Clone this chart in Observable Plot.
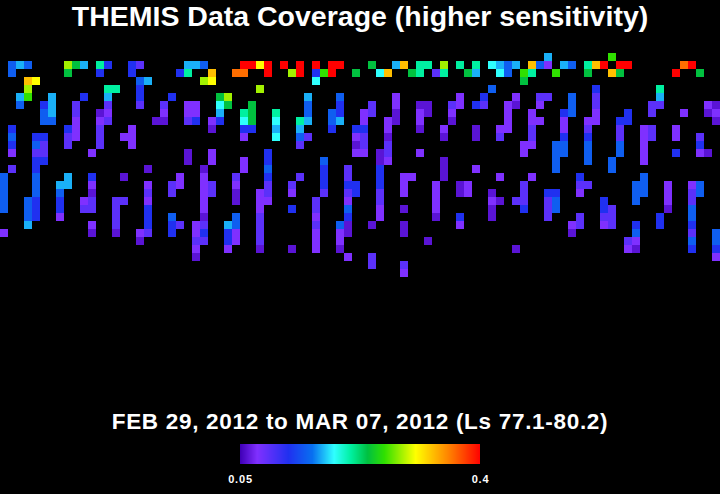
<!DOCTYPE html>
<html>
<head>
<meta charset="utf-8">
<script src="https://cdn.jsdelivr.net/npm/d3@7"></script>
<script src="https://cdn.jsdelivr.net/npm/@observablehq/plot@0.6"></script>
<style>
  html, body { margin: 0; padding: 0; background: #000; }
  #page { position: relative; width: 720px; height: 494px; background: #000; overflow: hidden; font-family: "Liberation Sans", Arial, sans-serif; color: #fff; }
  #page svg { position: absolute; left: 0; background: #000; }
  #page svg text { letter-spacing: 0.8px; }
  .t { position: absolute; left: 0; width: 720px; text-align: center; margin: 0; font-weight: bold; white-space: nowrap; z-index: 2; }
  #title { top: 0; font-size: 28.5px; line-height: 32px; letter-spacing: 0; }
  #sub { top: 409px; font-size: 22.5px; line-height: 26px; letter-spacing: 0.7px; }
</style>
</head>
<body>
<div id="page">
  <h1 class="t" id="title">THEMIS Data Coverage (higher sensitivity)</h1>
  <h2 class="t" id="sub">FEB 29, 2012 to MAR 07, 2012 (Ls 77.1-80.2)</h2>
</div>
<script>
const columnCount = 90;
const rowCount = 28;
const rampMin = 0.05;
const rampMax = 0.4;
const rampTicks = [0.05, 0.4];

// colour ramp stops
const stopValues = [0.05, 0.0745, 0.12, 0.155, 0.1865, 0.211, 0.2355, 0.26, 0.3055, 0.3545, 0.4];
const stopColors = ["#4000b8", "#8030ff", "#2030f0", "#0870f0", "#30ffff", "#00f0a0", "#00c040", "#30e000", "#ffff00", "#ff8000", "#ff0000"];

// sensitivity levels
const levels = {a: 0.06, b: 0.075, c: 0.092, d: 0.12, e: 0.145, f: 0.169, g: 0.187, h: 0.211, i: 0.236, j: 0.26, k: 0.285, l: 0.306, m: 0.33, n: 0.361, o: 0.4};

// one string per latitude row: column number + level letter
const coverageRows = [
  "68f 76j",
  "1e 2f 3e 8k 9i 10f 12h 13d 16d 17c 23f 24f 25e 30o 31o 32l 33o 35o 37o 39o 41o 42o 46i 49f 50m 52h 53h 55k 57h 59h 61g 62f 63e 64f 66m 67e 68b 70f 71e 73h 74m 75o 77o 78o 85n 86o",
  "1e 8i 12d 16d 22d 23h 26m 29n 30n 33o 36k 37o 39d 40j 41o 44i 47g 48m 51i 52h 54c 55h 58i 59f 62g 63e 65j 66h 69j 73i 76m 77i 84o 87i",
  "3m 4l 17e 18f 25k 26l 39g 65i",
  "3k 13h 14h 17d 32k 61e 74d 82h",
  "2f 3j 6f 10d 13f 17d 21d 27i 28k 38f 42e 49b 57b 60d 64b 67c 68c 71e 74c 82f",
  "2e 5d 6f 9c 13c 17c 20c 23b 24b 27g 28i 31i 38e 42d 46c 49b 52a 53a 56c 57b 59d 60c 63b 64a 67b 71e 74c 81c 82c 88b 89a",
  "5e 6f 9c 12a 13b 20b 23b 24b 27f 30h 31i 34h 38e 41e 42d 45b 46c 49a 52b 53a 56b 63b 66b 70d 71e 74b 78d 81c 85b 88a 89b",
  "5e 6e 9b 12b 13c 19a 20a 23c 24d 26b 27d 30g 31i 34g 37h 38f 41e 42f 45b 48b 49a 52b 56a 63b 66b 67b 70b 73b 74b 77d 78d 89a",
  "1d 8d 9b 12c 16b 26a 30d 31d 34f 37f 41d 44d 45d 48b 52a 55b 59a 62b 63b 66c 70b 73c 77c 80b 81c 84b",
  "1e 4d 5d 8c 9b 12c 15b 16b 30b 34g 37e 38c 44b 45c 48a 55a 59a 62c 66c 70d 73d 77c 80b 81c 84b 87c",
  "1d 4e 5c 8c 12c 16b 37c 44a 45c 48c 65b 66b 69e 70e 73e 77e 80b 87d",
  "1b 4c 5c 11b 23a 26b 33d 44b 45b 47a 48c 52b 65b 69e 70e 73e 77e 80b 84d 87b 88a",
  "4d 5d 23a 26b 30b 33d 40e 47a 48b 55a 69e 73e 76e 80b",
  "1c 4d 18a 25a 30b 33e 40d 43c 47d 55a 59b 69e 76e",
  "0e 4e 8f 11d 15a 22b 25b 29c 33d 37c 40d 43c 47d 50b 51b 55a 62b 66b 72d 80e",
  "0e 4e 7f 8f 11b 18b 21c 22b 25b 26c 29b 33c 36c 40d 43d 44d 47d 50b 54b 57a 58b 65c 72c 73c 79e 80e 83b 86b 87e",
  "0e 4e 7e 11a 18c 21c 25b 26c 29a 32b 33c 36b 40c 43c 44d 47c 50b 54b 57a 58b 61a 65c 68d 69d 72b 79e 80e 83b 86c 87e",
  "0e 3e 4d 7d 10b 11c 14c 15c 18b 25b 29a 32b 33b 39c 43b 47c 54b 61b 62a 64c 65c 68c 69e 75d 79e 83b 86c",
  "0e 3e 4d 7d 10c 11c 14c 18d 25b 32b 36d 39c 43e 47b 50a 54b 61a 65d 68c 69e 75d 76c 83a 86e",
  "3e 4d 7b 14c 18d 21e 25a 29e 32c 39b 43d 47b 54a 57d 61a 68c 72c 75c 76c 82d 86e",
  "3f 11b 14c 18d 21d 22c 24b 25c 28f 29e 32c 39c 42e 43a 46a 50a 57b 71b 72c 75b 76c 79d 82d 86d",
  "0b 11a 14a 17b 18c 21d 24b 25d 28d 29b 32c 39b 42b 43a 50a 71a 79e 86c 89e",
  "17a 24c 25c 28d 29b 32c 39b 42b 53a 78c 79b 86e 89e",
  "24b 28b 32a 36a 39b 42a 64a 78b 79a 86d 89d",
  "24a 43b 46c 89b",
  "46c 50c",
  "50b"
];

const cells = coverageRows.flatMap((line, row) =>
  line.split(" ").map(tok => ({
    col: +tok.slice(0, -1),
    row,
    value: levels[tok.slice(-1)]
  }))
);

const colorScale = {type: "linear", domain: stopValues, range: stopColors, interpolate: "rgb", clamp: true};

const chart = Plot.plot({
  width: 720,
  height: 494,
  marginTop: 53,
  marginBottom: 217,
  marginLeft: 0,
  marginRight: 0,
  style: {background: "#000"},
  x: {type: "band", domain: d3.range(columnCount), padding: 0, axis: null},
  y: {type: "band", domain: d3.range(rowCount), padding: 0, axis: null},
  color: colorScale,
  marks: [
    Plot.cell(cells, {x: "col", y: "row", fill: "value"})
  ]
});
chart.style.top = "0px";
document.getElementById("page").appendChild(chart);

// colour bar
const rampSteps = d3.range(240).map(i => ({
  a: rampMin + (rampMax - rampMin) * i / 240,
  b: rampMin + (rampMax - rampMin) * (i + 1) / 240
}));
const bar = Plot.plot({
  width: 720,
  height: 50,
  marginTop: 0,
  marginBottom: 30,
  marginLeft: 240,
  marginRight: 240,
  style: {background: "transparent"},
  x: {type: "linear", domain: [rampMin, rampMax], axis: null},
  color: colorScale,
  marks: [
    Plot.rectX(rampSteps, {x1: "a", x2: "b", fill: d => d.a}),
    Plot.axisX(rampTicks, {
      anchor: "bottom",
      tickSize: 0,
      tickPadding: 11,
      fontSize: 11,
      fontWeight: "bold",
      fontFamily: "Liberation Sans, Arial, sans-serif",
      fill: "#fff",
      tickFormat: d => String(d),
      label: null
    })
  ]
});
bar.style.top = "444px";
document.getElementById("page").appendChild(bar);
</script>
</body>
</html>
